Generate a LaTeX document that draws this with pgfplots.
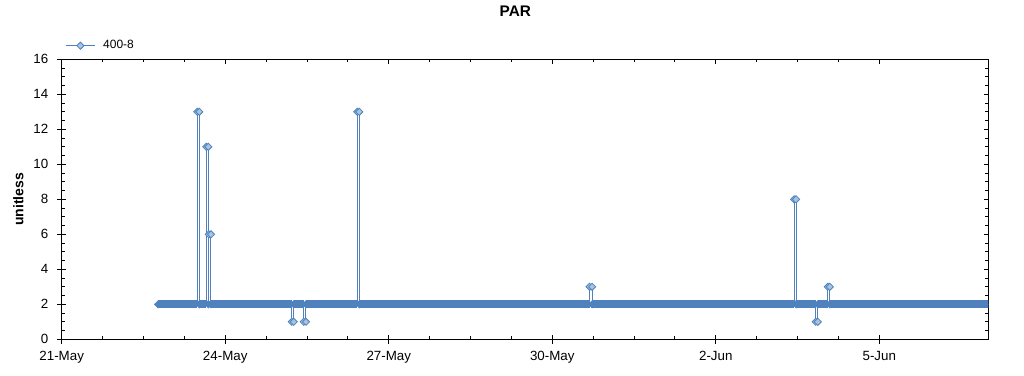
\documentclass[border=0pt]{standalone}
\usepackage{fontspec}
\setmainfont{Liberation Sans}
\usepackage{pgfplots}
\usepackage{pgfplotstable}
\pgfplotsset{compat=1.18}
\definecolor{serblue}{RGB}{79,129,189}
\definecolor{serfill}{RGB}{167,196,222}

% x = days since 21-May 00:00, y = PAR (unitless)
\pgfplotstableread{
x y
1.770 2
2.488 2
2.488 13
2.525 13
2.525 2
2.653 2
2.653 11
2.690 11
2.690 2
2.699 2
2.699 6
2.739 6
2.739 2
4.220 2
4.220 1
4.257 1
4.257 2
4.440 2
4.440 1
4.482 1
4.482 2
5.424 2
5.424 13
5.460 13
5.460 2
9.685 2
9.685 3
9.731 3
9.731 2
13.437 2
13.437 8
13.473 8
13.473 2
13.835 2
13.835 1
13.872 1
13.872 2
14.055 2
14.055 3
14.092 3
14.092 2
17.050 2
}\pardata

\begin{document}
\begin{tikzpicture}
\path[use as bounding box] (-46.275pt,-26.775pt) rectangle (721.725pt,254.475pt);
\begin{axis}[
  at={(0pt,0pt)}, anchor=south west,
  scale only axis, width=694.95pt, height=210pt,
  xmin=0, xmax=17, ymin=0, ymax=16,
  xtick={0,3,6,9,12,15},
  xticklabels={21-May,24-May,27-May,30-May,2-Jun,5-Jun},
  minor x tick num=3,
  ytick={0,2,4,6,8,10,12,14,16},
  minor y tick num=3,
  tick align=inside,
  major tick length=3.3pt, minor tick length=2.2pt,
  tick style={black, line width=0.7pt},
  axis line style={black, line width=0.75pt},
  extra x ticks={0,3,6,9,12,15},
  extra x tick style={tick align=outside, xticklabel={}, xtick pos=bottom},
  extra y ticks={0,2,4,6,8,10,12,14,16},
  extra y tick style={tick align=outside, yticklabel={}, ytick pos=left},
  tick label style={font=\fontsize{10}{12}\selectfont},
  /pgf/number format/assume math mode=true,
  xticklabel style={yshift=-5.5pt},
  yticklabel style={xshift=-6.5pt},
  ylabel={unitless},
  ylabel style={font=\bfseries\fontsize{10.5}{12}\selectfont, at={(axis description cs:0,0.5)}, anchor=center, yshift=32.55pt},
  title={PAR},
  title style={font=\bfseries\fontsize{11.5}{13}\selectfont, at={(axis description cs:0.4895,1)}, anchor=center, yshift=30.4pt},
  legend image code/.code={\draw[mark repeat=2,mark phase=2,#1] plot coordinates {(0cm,0cm) (0.385cm,0cm) (0.77cm,0cm)};},
  legend style={at={(axis description cs:0,1)}, anchor=west, xshift=2.5pt, yshift=10.2pt, draw=none, fill=none, inner sep=0pt, font=\fontsize{9}{11}\selectfont,
    /tikz/every odd column/.append style={column sep=3.75pt}},
  legend cell align=left,
]
% band of the dense readings at 2
\addplot[forget plot, serblue, line width=6pt, line cap=butt,
  restrict y to domain=1.5:2.5, unbounded coords=jump,
  mark=square*, mark indices={1},
  mark options={rotate=45, draw=serblue, fill=serblue, line width=0.6pt, mark size=1.9pt}]
  table {\pardata};
% the series line
\addplot[forget plot, serblue, line width=0.75pt, mark=none] table {\pardata};
% markers on the readings off the baseline
\addplot[forget plot, only marks, mark=square*, mark size=1.9pt,
  mark options={rotate=45, draw=serblue, fill=serfill, line width=0.6pt},
  y filter/.expression={abs(y-2)<0.01 ? nan : y}, unbounded coords=discard]
  table {\pardata};
\addlegendimage{serblue, line width=0.75pt, mark=square*, mark size=1.9pt,
  mark options={rotate=45, draw=serblue, fill=serfill, line width=0.6pt}}
\addlegendentry{400-8}
\end{axis}
\end{tikzpicture}
\end{document}
